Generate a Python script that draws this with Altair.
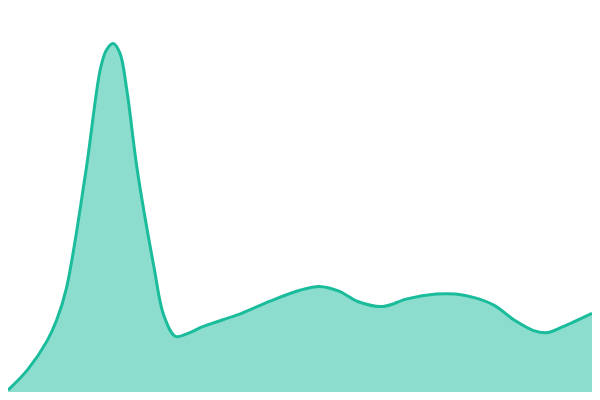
import altair as alt
import pandas as pd

xs = [0, 20, 40, 50, 60, 80, 95, 101, 108, 115, 122, 133, 150, 160, 172, 185, 200, 220, 240, 270,
      300, 320, 340, 360, 385, 410, 440, 460, 480, 500, 520, 540, 555, 570, 600]
ys = [398, 377, 347, 325, 292, 170, 63, 44, 37, 47, 85, 170, 270, 320, 342, 339, 332, 325, 318, 305,
      294, 290, 295, 306, 311, 303, 298, 298, 302, 310, 325, 336, 338, 332, 318]
values = [400 - y for y in ys]

df = pd.DataFrame({"x": xs, "v": values})

chart = alt.Chart(df).mark_area(
    interpolate="catmull-rom",
    color="#1abc9c",
    fillOpacity=0.5,
    line={"color": "#1abc9c", "strokeWidth": 3},
).encode(
    x=alt.X("x:Q", axis=None, scale=alt.Scale(domain=[0, 600], nice=False, zero=False)),
    y=alt.Y("v:Q", axis=None, scale=alt.Scale(domain=[0, 400], nice=False)),
).properties(
    width=584, height=384,
    autosize=alt.AutoSizeParams(type="none"),
    padding={"left": 0, "right": 0, "top": 0, "bottom": 0},
).configure_view(stroke=None)

chart.save("out.html", embed_options={"renderer": "svg", "actions": False})
